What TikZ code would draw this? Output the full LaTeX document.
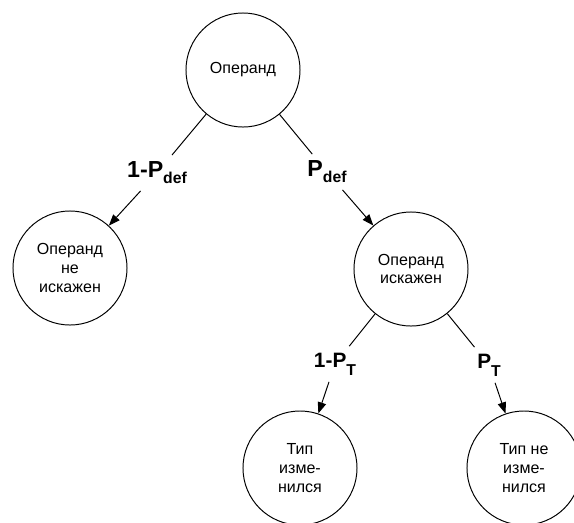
\documentclass[tikz,border=0pt]{standalone}
\usepackage{fontspec}
\setmainfont{Liberation Sans}
\usetikzlibrary{arrows.meta}

\tikzset{
	state/.style={draw, circle, minimum size=2.85cm, inner sep=0pt, align=center, font=\fontsize{11.4}{13.2}\selectfont},
	probd/.style={inner sep=4.5pt, font=\bfseries\fontsize{16.5}{18}\selectfont},
	probt/.style={inner sep=4.5pt, font=\bfseries\fontsize{14.8}{16}\selectfont}
}
\newcommand{\lowsub}[2]{\raisebox{#1}{\fontsize{11.2}{12}\selectfont #2}}

\begin{document}
\begin{tikzpicture}[x=0.025cm, y=-0.025cm, line width=0.7pt, >={Triangle[length=8pt,width=6pt]}]
		\useasboundingbox (0,0) rectangle (574,522);
		\node[state] (op) at (243,70) {Операнд};
		\node[state] (ok) at (70,268) {Операнд\\не\\искажен};
		\node[state] (bad) at (411,269) {Операнд\\искажен};
		\node[state] (chg) at (300,468) {Тип\\изме-\\нился};
		\node[state] (same) at (524,468) {Тип не\\изме-\\нился};
		\node[probd] (qdef) at (157,173) {1-P\lowsub{-4.3pt}{def}};
		\node[probd] (pdef) at (327,172) {P\lowsub{-4.3pt}{def}};
		\node[probt] (qt) at (335,364) {1-P\lowsub{-5.5pt}{T}};
		\node[probt] (pt) at (489,365) {P\lowsub{-5.5pt}{T}};
		\draw (op) -- (qdef);
		\draw [->] (qdef) -- (ok);
		\draw (op) -- (pdef);
		\draw [->] (pdef) -- (bad);
		\draw (bad) -- (qt);
		\draw [->] (qt) -- (chg);
		\draw (bad) -- (pt);
		\draw [->] (pt) -- (same);
\end{tikzpicture}
\end{document}
